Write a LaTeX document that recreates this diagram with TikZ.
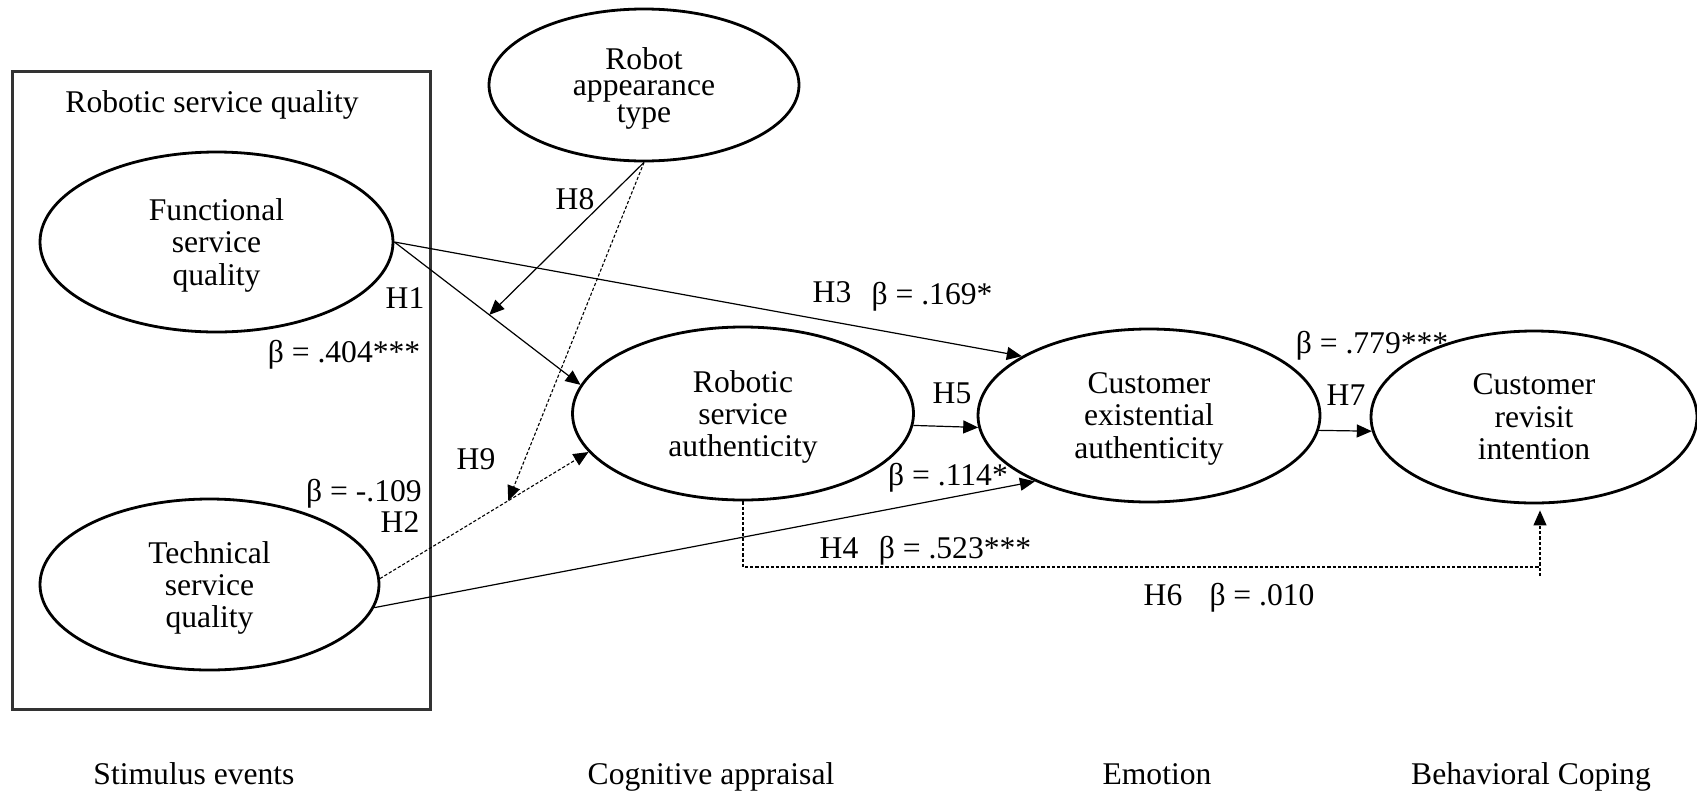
\documentclass[tikz,border=0pt]{standalone}
\usepackage{fontspec}
\setmainfont{Liberation Serif}
\usetikzlibrary{shapes.geometric,arrows.meta,calc}
\newcommand{\nodepth}[1]{\raisebox{0pt}[\height][0pt]{#1}}
\tikzset{
  txt/.style={font=\fontsize{15.8pt}{16.2pt}\selectfont, inner sep=0pt, align=center},
  ell/.style={txt, draw, ellipse, line width=1.4pt},
  lbl/.style={txt, text height=0.7em, text depth=0.2em, yshift=-2pt},
  conn/.style={line width=0.6pt, -{Triangle[length=7.5pt,width=6.5pt]}},
  dconn/.style={line width=0.55pt, dash pattern=on 1.6pt off 1pt},
  grp/.style={draw=black!80, line width=1.5pt, inner sep=0pt}
}
\begin{document}
\begin{tikzpicture}[x=0.5pt,y=-0.5pt]
\useasboundingbox (0,0) rectangle (1697,793);

% group box
\node[grp, minimum width=209pt, minimum height=319pt] (box) at (221,390) {};
\node[lbl] (boxtitle) at (212,103) {Robotic service quality};

% ellipses
\node[ell, minimum width=176.5pt, minimum height=90pt] (fsq) at (216.5,242) {Functional\\service\\\nodepth{quality}};
\node[ell, minimum width=169.5pt, minimum height=85.5pt] (tsq) at (209.5,584.5) {Technical\\service\\\nodepth{quality}};
\node[ell, minimum width=155pt, minimum height=76pt, font=\fontsize{15.8pt}{13.4pt}\selectfont] (rat) at (644,85) {Robot\\appearance\\\nodepth{type}};
\node[ell, minimum width=170.5pt, minimum height=86.5pt] (rsa) at (743,413.5) {Robotic\\service\\\nodepth{authenticity}};
\node[ell, minimum width=171pt, minimum height=86.5pt] (cea) at (1149,415.5) {Customer\\existential\\\nodepth{authenticity}};
\node[ell, minimum width=163pt, minimum height=86pt] (cri) at (1534,417) {Customer\\revisit\\intention};

% helper coordinates
\coordinate (h8end) at ($(fsq.east)!0.51!(rsa.170)$);
\coordinate (h9end) at ($(tsq.2)!0.615!(rsa.194)$);
\coordinate (h6b) at (1540,567);
\coordinate (h6c) at (1540,576);

% connectors
\draw[conn] (fsq.east) -- (rsa.170);
\draw[conn] (fsq.east) -- (cea.155);
\draw[conn] (rat.south) -- (h8end);
\draw[conn,dconn] (rat.south) -- (h9end);
\draw[conn,dconn] (tsq.2) -- (rsa.194);
\draw[conn] (tsq.-8) -- (cea.210);
\draw[conn] (rsa.-4) -- (cea.184);
\draw[conn] (cea.-5) -- (cri.185);
\draw[dconn] (rsa.south) |- (h6b);
\draw[conn,dconn,shorten >=3pt] (h6c) -- (h6c |- cri.south);

% labels
\node[lbl] (lh8) at (575,200) {H8};
\node[lbl] (lh1) at (405,299) {H1};
\node[lbl] (lb1) at (344,353) {β = .404***};
\node[lbl] (lh3) at (832,293) {H3};
\node[lbl] (lb3) at (932,295) {β = .169*};
\node[lbl] (lb7) at (1372,344) {β = .779***};
\node[lbl] (lh5) at (952,394) {H5};
\node[lbl] (lh7) at (1346,396) {H7};
\node[lbl] (lb5) at (948,476) {β = .114*};
\node[lbl] (lh9) at (476,460) {H9};
\node[lbl] (lb2) at (364,492) {β = -.109};
\node[lbl] (lh2) at (400,523) {H2};
\node[lbl] (lh4) at (839,549) {H4};
\node[lbl] (lb4) at (955,549) {β = .523***};
\node[lbl] (lh6) at (1163,596) {H6};
\node[lbl] (lb6) at (1262,596) {β = .010};

% stage labels
\node[lbl] (s1) at (194,775) {Stimulus events};
\node[lbl] (s2) at (711,775) {Cognitive appraisal};
\node[lbl] (s3) at (1157,775) {Emotion};
\node[lbl] (s4) at (1531,775) {Behavioral Coping};
\end{tikzpicture}
\end{document}
